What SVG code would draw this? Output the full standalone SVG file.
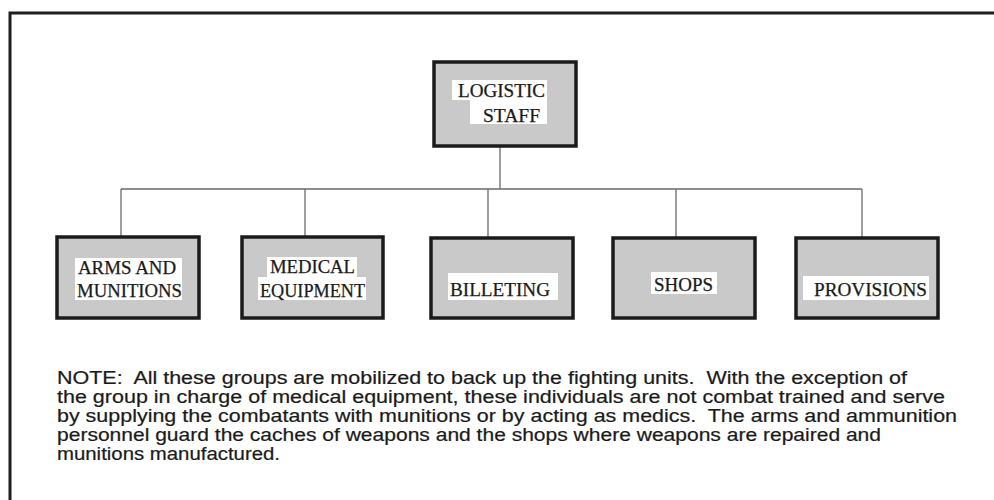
<svg xmlns="http://www.w3.org/2000/svg" width="994" height="500" viewBox="0 0 994 500">
<style>
.box{fill:#c9c9c9;stroke:#1b1b1b;stroke-width:3.5}
.lab{fill:#fff}
.t{font-family:"Liberation Serif","Times New Roman",serif;font-size:18.5px;fill:#1a1a1a;stroke:#1a1a1a;stroke-width:0.25}
.note{font-family:"Liberation Sans",Arial,sans-serif;font-size:17.5px;fill:#1a1a1a;stroke:#1a1a1a;stroke-width:0.2}
.con{stroke:#6a6a6a;stroke-width:1.3;fill:none}
</style>
<rect width="994" height="500" fill="#fff"/>
<g id="frame"><path d="M10 500 V13 H994" fill="none" stroke="#1e1e1e" stroke-width="3"/></g>
<g id="connectors">
<path class="con" d="M500 147 V189 M121 189 H862 M121 189 V236 M305 189 V236 M488 189 V237 M676 189 V237 M862 189 V237"/>
</g>
<g id="logistic">
<rect class="box" x="434" y="62" width="142" height="84"/>
<rect class="lab" x="452" y="80" width="95" height="20"/>
<rect class="lab" x="470" y="100" width="77" height="24"/>
<text class="t" x="458" y="97" textLength="87" lengthAdjust="spacingAndGlyphs">LOGISTIC</text>
<text class="t" x="483" y="122" textLength="57" lengthAdjust="spacingAndGlyphs">STAFF</text>
</g>
<g id="arms">
<rect class="box" x="57" y="237" width="142" height="81"/>
<rect class="lab" x="75" y="258" width="107" height="42"/>
<text class="t" x="78" y="274" textLength="98" lengthAdjust="spacingAndGlyphs">ARMS AND</text>
<text class="t" x="77" y="297" textLength="105" lengthAdjust="spacingAndGlyphs">MUNITIONS</text>
</g>
<g id="medical">
<rect class="box" x="242" y="237" width="141" height="81"/>
<rect class="lab" x="267" y="257" width="90" height="20"/>
<rect class="lab" x="258" y="277" width="108" height="23"/>
<text class="t" x="270" y="273" textLength="85" lengthAdjust="spacingAndGlyphs">MEDICAL</text>
<text class="t" x="260" y="297" textLength="105" lengthAdjust="spacingAndGlyphs">EQUIPMENT</text>
</g>
<g id="billeting">
<rect class="box" x="431" y="238" width="142" height="80"/>
<rect class="lab" x="448" y="273" width="110" height="27"/>
<text class="t" x="450" y="296" textLength="100" lengthAdjust="spacingAndGlyphs">BILLETING</text>
</g>
<g id="shops">
<rect class="box" x="613" y="238" width="142" height="80"/>
<rect class="lab" x="651" y="272" width="66" height="22"/>
<text class="t" x="654" y="291" textLength="59" lengthAdjust="spacingAndGlyphs">SHOPS</text>
</g>
<g id="provisions">
<rect class="box" x="796" y="238" width="142" height="80"/>
<rect class="lab" x="803" y="276" width="126" height="24"/>
<text class="t" x="814" y="296" textLength="113" lengthAdjust="spacingAndGlyphs">PROVISIONS</text>
</g>
<g id="note">
<text class="note" x="57" y="384" textLength="850" lengthAdjust="spacingAndGlyphs" xml:space="preserve">NOTE:  All these groups are mobilized to back up the fighting units.  With the exception of</text>
<text class="note" x="57" y="403" textLength="888" lengthAdjust="spacingAndGlyphs">the group in charge of medical equipment, these individuals are not combat trained and serve</text>
<text class="note" x="57" y="422" textLength="900" lengthAdjust="spacingAndGlyphs" xml:space="preserve">by supplying the combatants with munitions or by acting as medics.  The arms and ammunition</text>
<text class="note" x="57" y="441" textLength="824" lengthAdjust="spacingAndGlyphs">personnel guard the caches of weapons and the shops where weapons are repaired and</text>
<text class="note" x="57" y="460" textLength="223" lengthAdjust="spacingAndGlyphs">munitions manufactured.</text>
</g>
</svg>
